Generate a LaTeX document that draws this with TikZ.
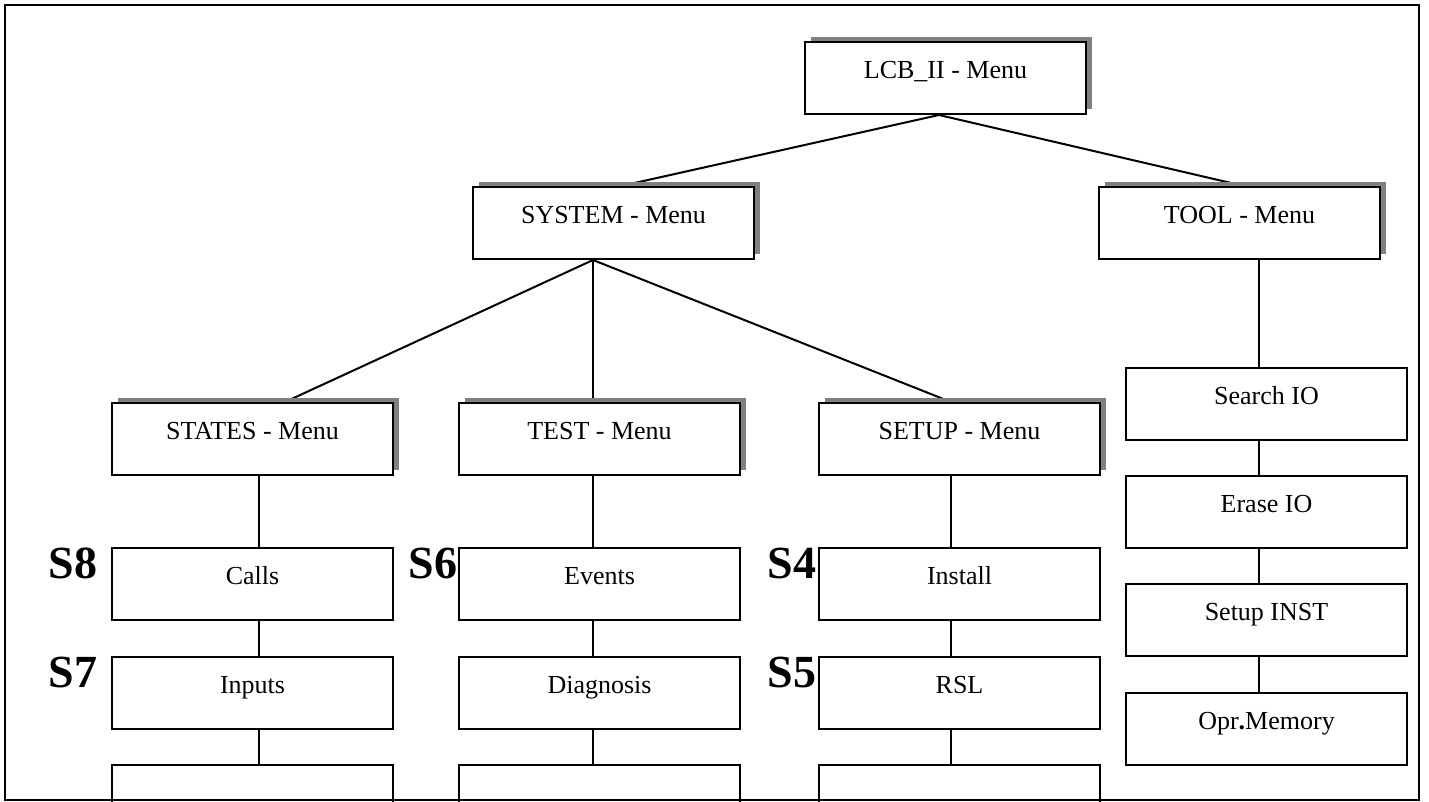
\documentclass[tikz,border=0pt]{standalone}
\usepackage{fontspec}
\setmainfont{Liberation Serif}
\usetikzlibrary{shadows,backgrounds}
\begin{document}
\begin{tikzpicture}[x=1pt,y=-1pt,
  menubox/.style={draw, line width=2pt, fill=white, minimum width=281pt,
    minimum height=72pt, inner sep=0pt, anchor=north west,
    text height=20pt, text depth=20pt, font=\fontsize{26}{30}\selectfont},
  shadowed/.style={drop shadow={shadow xshift=6pt, shadow yshift=5pt,
    fill=black!50, opacity=1}},
  link/.style={line width=2pt},
  steplabel/.style={font=\fontsize{46}{50}\selectfont\bfseries,
    anchor=base, inner sep=0pt}]
\useasboundingbox (0,0) rectangle (1429,801);

% top level
\node[menubox, shadowed] (lcb) at (804,41) {LCB\_II - Menu};
% second level
\node[menubox, shadowed] (system) at (472,186) {SYSTEM - Menu};
\node[menubox, shadowed] (tool) at (1098,186) {TOOL - Menu};
% third level
\node[menubox, shadowed] (states) at (111,402) {STATES - Menu};
\node[menubox, shadowed] (test) at (458,402) {TEST - Menu};
\node[menubox, shadowed] (setup) at (818,402) {SETUP - Menu};

% STATES column
\node[menubox] (calls) at (111,547) {Calls};
\node[menubox] (inputs) at (111,656) {Inputs};
\node[menubox] (stnext) at (111,764) {};
% TEST column
\node[menubox] (events) at (458,547) {Events};
\node[menubox] (diag) at (458,656) {Diagnosis};
\node[menubox] (tsnext) at (458,764) {};
% SETUP column
\node[menubox] (install) at (818,547) {Install};
\node[menubox] (rsl) at (818,656) {RSL};
\node[menubox] (sunext) at (818,764) {};
% TOOL column
\node[menubox] (search) at (1125,367) {Search IO};
\node[menubox] (erase) at (1125,475) {Erase IO};
\node[menubox] (inst) at (1125,583) {Setup INST};
\node[menubox] (oprmem) at (1125,692) {Opr{\bfseries .}Memory};

% step markers
\node[steplabel] (s8) at (73,578) {S8};
\node[steplabel] (s7) at (73,687) {S7};
\node[steplabel] (s6) at (433,578) {S6};
\node[steplabel] (s4) at (792,578) {S4};
\node[steplabel] (s5) at (792,687) {S5};

% connectors, kept behind the boxes and their shadows
\begin{scope}[on background layer]
  \draw[link] ([xshift=-6.5pt]lcb.south) -- ([xshift=7.5pt]system.north);
  \draw[link] ([xshift=-6.5pt]lcb.south) -- ([xshift=4.5pt]tool.north);
  \draw[link] ([xshift=-20.5pt]system.south) -- ([xshift=32.5pt]states.north);
  \draw[link] ([xshift=-20.5pt]system.south) -- ([xshift=-6.5pt]test.north);
  \draw[link] ([xshift=-20.5pt]system.south) -- ([xshift=-8.5pt]setup.north);
  \draw[link] ([xshift=6.5pt]states.south) -- ([xshift=6.5pt]calls.north);
  \draw[link] ([xshift=6.5pt]calls.south) -- ([xshift=6.5pt]inputs.north);
  \draw[link] ([xshift=6.5pt]inputs.south) -- ([xshift=6.5pt]stnext.north);
  \draw[link] ([xshift=-6.5pt]test.south) -- ([xshift=-6.5pt]events.north);
  \draw[link] ([xshift=-6.5pt]events.south) -- ([xshift=-6.5pt]diag.north);
  \draw[link] ([xshift=-6.5pt]diag.south) -- ([xshift=-6.5pt]tsnext.north);
  \draw[link] ([xshift=-8.5pt]setup.south) -- ([xshift=-8.5pt]install.north);
  \draw[link] ([xshift=-8.5pt]install.south) -- ([xshift=-8.5pt]rsl.north);
  \draw[link] ([xshift=-8.5pt]rsl.south) -- ([xshift=-8.5pt]sunext.north);
  \draw[link] ([xshift=19.5pt]tool.south) -- ([xshift=-7.5pt]search.north);
  \draw[link] ([xshift=-7.5pt]search.south) -- ([xshift=-7.5pt]erase.north);
  \draw[link] ([xshift=-7.5pt]erase.south) -- ([xshift=-7.5pt]inst.north);
  \draw[link] ([xshift=-7.5pt]inst.south) -- ([xshift=-7.5pt]oprmem.north);
\end{scope}

% page frame
\draw[line width=2pt] (5,5) rectangle (1419,800);
\end{tikzpicture}
\end{document}
